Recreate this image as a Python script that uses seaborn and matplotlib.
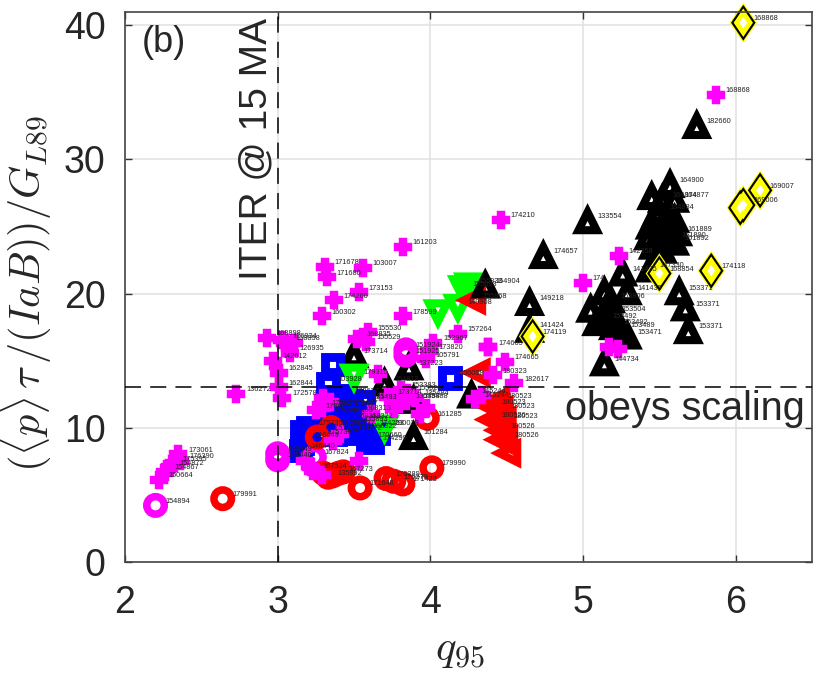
## Confinement quality against q95

#----------------------------------------------------
# import
#----------------------------------------------------

import matplotlib
matplotlib.use("Agg")
import matplotlib.pyplot as plt
from matplotlib.markers import MarkerStyle
from matplotlib.transforms import Affine2D
import seaborn as sns

#----------------------------------------------------
# data
#----------------------------------------------------

tick_x = [2, 3, 4, 5, 6]
tick_y = [0, 10, 20, 30, 40]

green_back_q = [4.05, 4.18, 4.21, 4.25]
green_back_y = [18.6, 19.0, 20.4, 20.6]
green_back_shot = ["", "149908", "155833", "155833"]

green_front_q = [3.50, 3.70]
green_front_y = [13.8, 10.0]
green_front_shot = ["179315", "290028"]

left_back_q = [4.28]
left_back_y = [19.5]
left_back_shot = ["155868"]

black_q = [5.745, 5.57, 5.45, 5.52, 5.60, 5.50, 5.48, 5.55, 5.60, 5.44, 5.52, 5.62, 5.43, 5.50, 5.58, 5.46, 5.52, 5.60,
           5.44, 5.63, 5.67, 5.69, 5.29, 5.26, 5.05, 5.14, 5.18, 5.09, 5.13, 5.19, 5.20, 5.25, 5.29, 5.14, 5.03,
           4.65, 4.74, 4.36, 4.65, 3.50, 3.86, 3.70, 3.89, 3.89, 4.27]
black_y = [32.5, 28.1, 27.2, 27.0, 27.0, 26.1, 25.9, 25.7, 25.5, 25.0, 24.8, 24.5, 24.2, 24.0, 24.0, 23.5, 23.2, 23.8,
           21.8, 20.1, 18.9, 17.2, 20.1, 21.5, 18.8, 20.1, 19.5, 17.8, 18.0, 18.5, 17.5, 17.3, 16.8, 14.8, 25.4,
           19.3, 22.8, 20.6, 17.3, 15.4, 14.5, 13.3, 12.0, 9.3, 12.4]
black_shot = ["182660", "164900", "", "164874", "164877", "164884", "", "", "", "", "", "161889", "", "", "161890", "", "", "161892",
              "147330", "153371", "153371", "153371", "141435", "141435", "", "", "153806", "", "153492", "153504", "153492", "153489", "153471", "144734", "133554",
              "149218", "174657", "164904", "141424", "173714", "137223", "154813", "135488", "161284", "145244"]

blue_q = [4.13, 3.36, 3.33, 3.18, 3.15, 3.62, 3.20, 3.43, 3.52, 3.48, 3.56, 3.59, 3.35, 3.41, 3.28, 3.36,
          3.30, 3.40, 3.45, 3.50, 3.38, 3.46, 3.53, 3.60, 3.66, 3.44, 3.56, 3.16, 3.16]
blue_y = [13.7, 14.7, 13.3, 9.1, 8.3, 8.9, 10.0, 11.5, 11.1, 12.0, 9.8, 9.1, 10.8, 10.0, 9.6, 12.3,
          11.0, 11.0, 10.5, 10.3, 9.5, 9.6, 10.5, 10.0, 9.6, 12.4, 11.9, 9.7, 8.8]
blue_shot = ["156098", "", "103928", "146449", "146440", "174299", "175735", "178627", "168313", "178621", "168322", "170660", "175736", "175737", "175738", "",
             "175739", "174263", "168313", "135893", "174277", "173272", "168322", "174263", "", "178627", "135483", "", ""]

ring_q = [2.20, 3.00, 3.00, 3.84, 3.84, 3.24]
ring_y = [4.2, 8.05, 7.6, 15.8, 15.4, 7.8]
ring_shot = ["154894", "146449", "146440", "151924", "151925", "167824"]

red_q = [2.64, 3.54, 3.71, 3.82, 4.01, 3.40, 3.33, 3.35, 3.26, 3.98, 3.76, 3.36, 3.43, 3.30]
red_y = [4.7, 5.5, 6.2, 5.8, 7.0, 6.6, 6.3, 10.0, 9.3, 10.7, 6.0, 6.4, 6.7, 6.6]
red_shot = ["179991", "171648", "176289", "171423", "179990", "167273", "135892", "175780", "175735", "161285", "176279", "", "", ""]

left_q = [4.31, 4.40, 4.44, 4.46, 4.48, 4.40, 4.46, 4.49, 4.46, 4.51]
left_y = [14.1, 11.6, 12.0, 11.3, 10.5, 10.6, 9.8, 9.1, 9.1, 8.1]
left_shot = ["", "180523", "180523", "180523", "180523", "180526", "180526", "180526", "", ""]

plus_q = [5.87, 4.46, 3.82, 3.31, 3.32, 3.56, 3.53, 3.37, 3.29, 3.82, 4.18, 3.59, 3.52, 2.93, 3.03, 3.05, 3.11,
          2.97, 3.08, 3.01, 3.01, 3.03, 2.73, 4.02, 3.97, 3.99, 4.38, 4.49, 4.41, 4.55, 4.29, 4.34, 5.235, 5.00, 5.17, 5.23,
          2.35, 2.36, 2.26, 2.22, 3.29, 3.30, 3.23, 3.29, 3.36, 3.41, 3.85, 3.72, 3.76, 3.58, 3.66, 3.61, 3.84, 3.97, 3.93, 3.53, 4.38,
          3.25, 3.18, 3.22, 3.34, 2.31, 2.29, 3.81, 3.90]
plus_y = [34.8, 25.5, 23.5, 22.0, 21.2, 21.9, 20.1, 19.5, 18.3, 18.3, 17.0, 17.1, 16.6, 16.7, 16.5, 16.3, 16.3,
          15.0, 15.6, 14.1, 13.0, 12.2, 12.5, 16.3, 15.1, 15.7, 16.0, 14.9, 13.9, 13.3, 12.1, 12.4, 22.8, 20.8, 16.0, 15.9,
          8.0, 7.5, 6.7, 6.1, 11.5, 12.2, 6.8, 6.5, 9.0, 9.5, 12.6, 12.3, 11.4, 16.4, 14.0, 11.0, 12.0, 11.5, 11.0, 7.5, 16.0,
          11.3, 7.5, 7.1, 11.9, 7.3, 7.0, 12.8, 12.2]
plus_shot = ["168868", "174210", "161203", "171678", "171680", "103007", "173153", "174260", "160302", "178599", "157264", "155530", "168835", "168898", "126934", "168898", "",
             "142612", "126935", "162845", "162844", "172578", "136272", "152967", "105791", "173820", "174665", "174665", "180323", "182617", "145244", "", "142358", "174", "", "",
             "173061", "176390", "154867", "150664", "178627", "", "167524", "", "", "", "155528", "173714", "", "155529", "", "", "135488", "", "", "", "",
             "178627", "", "", "", "175395", "154872", "153383", "135484"]

diamond_q = [6.05, 6.03, 6.05, 6.16, 5.84, 5.50, 4.67]
diamond_y = [40.2, 26.4, 26.6, 27.7, 21.7, 21.5, 16.8]
diamond_shot = ["168868", "", "169006", "169007", "174118", "168854", "174119"]

#----------------------------------------------------
# show
#----------------------------------------------------

def show_hollow( ax, q, y, marker, color, size, width, face="none" ):
    sns.scatterplot( x=q, y=y, marker=marker, s=size, facecolor=face, edgecolor=color,
                     linewidth=width, joinstyle="miter", ax=ax, legend=False )

def show_solid( ax, q, y, color, size ):
    # diamond a bit wider than the "d" marker
    wide = MarkerStyle("D", transform=Affine2D().scale(0.68, 1))
    sns.scatterplot( x=q, y=y, marker=wide, s=size, color=color, edgecolor="none", ax=ax, legend=False, clip_on=False )

def show_shots( ax, q, y, shots ):
    for qi, yi, shot in zip( q, y, shots ):
        if shot:
            ax.annotate( shot, (qi, yi), xytext=(7, 3), textcoords="offset points", fontsize=5.3,
                         va="center", color="#222222", zorder=6, annotation_clip=False )

#----------------------------------------------------
# Main
#----------------------------------------------------

def main():
    sns.set_style("whitegrid")
    plt.rcParams["font.family"] = ["Liberation Sans", "DejaVu Sans"]
    plt.rcParams["mathtext.fontset"] = "cm"

    fig = plt.figure(figsize=(8.3, 6.76), dpi=100)
    ax = fig.add_axes([125/830, 1-561.7/676, 687/830, 549.7/676])

    show_hollow( ax, green_back_q, green_back_y, "v", "#00ff00", 170, 5.8 )
    show_hollow( ax, left_back_q, left_back_y, "<", "#ff0000", 170, 5.8 )
    show_hollow( ax, black_q, black_y, "^", "black", 170, 5.8 )
    show_hollow( ax, blue_q, blue_y, "s", "#0000ff", 125, 6.4 )
    show_hollow( ax, green_front_q, green_front_y, "v", "#00ff00", 170, 5.8 )
    show_hollow( ax, ring_q, ring_y, "o", "#ff00ff", 159, 5.4 )
    show_hollow( ax, red_q, red_y, "o", "#ff0000", 159, 5.4 )
    show_hollow( ax, left_q, left_y, "<", "#ff0000", 170, 5.8 )
    show_hollow( ax, plus_q, plus_y, "P", "#ff00ff", 94, 3.2, face="#ff00ff" )

    show_solid( ax, diamond_q, diamond_y, "#ffff00", 420 )
    show_solid( ax, diamond_q, diamond_y, "black", 335 )
    show_solid( ax, diamond_q, diamond_y, "#ffff00", 210 )
    show_solid( ax, diamond_q, diamond_y, "white", 35 )

    for q, y, shots in [ (green_back_q, green_back_y, green_back_shot), (green_front_q, green_front_y, green_front_shot),
                         (left_back_q, left_back_y, left_back_shot), (black_q, black_y, black_shot),
                         (blue_q, blue_y, blue_shot), (ring_q, ring_y, ring_shot), (red_q, red_y, red_shot),
                         (left_q, left_y, left_shot), (plus_q, plus_y, plus_shot), (diamond_q, diamond_y, diamond_shot) ]:
        show_shots( ax, q, y, shots )

    ax.axvline( 3, color="black", lw=1.1, ls=(0, (10.5, 6)), zorder=5 )
    ax.axhline( 13, color="black", lw=1.1, ls=(0, (10.5, 6)), zorder=5 )

    ax.set_xlim(2, 6.5)
    ax.set_ylim(0, 41.0)
    ax.set_xticks(tick_x)
    ax.set_yticks(tick_y)
    ax.set_axisbelow(True)
    ax.grid(True, color="#e0e0e0", lw=1.1)
    ax.tick_params(axis="y", direction="in", length=5, width=1, color="#333333",
                   labelsize=27, labelcolor="#262626", pad=14, left=True, right=True)
    ax.tick_params(axis="x", direction="in", length=5, width=1, color="#333333",
                   labelsize=27, labelcolor="#262626", pad=17, bottom=True, top=True)
    for spine in ax.spines.values():
        spine.set_color("#444444")
        spine.set_linewidth(1.2)

    ax.set_xlabel(r"$q_{95}$", fontsize=31, color="#262626")
    ax.xaxis.set_label_coords(0.487, -0.125)
    ax.set_ylabel(r"$(\langle p \rangle\,\tau\,/(IaB))/G_{L89}$", fontsize=30.5, color="#262626")
    ax.yaxis.set_label_coords(-0.103, 0.489)

    ax.text(0.025, 0.945, "(b)", transform=ax.transAxes, fontsize=26, va="center", color="#262626", zorder=7)
    ax.text(2.86, 30.8, "ITER @ 15 MA", rotation=90, fontsize=28, ha="center", va="center", color="#262626", zorder=7)
    ax.text(6.45, 11.4, "obeys scaling", fontsize=28.5, ha="right", va="center", color="#262626", zorder=7)

    fig.savefig("out.png", dpi=100)


if __name__ == '__main__':
    main()
